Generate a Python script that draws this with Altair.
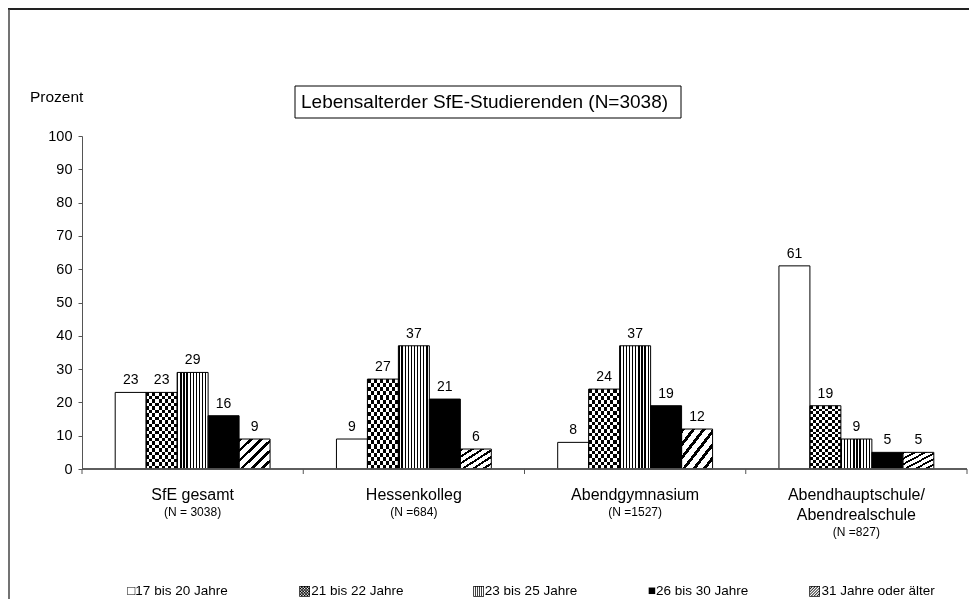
import altair as alt
import pandas as pd

# ---------------- data ----------------
groups = ["SfE gesamt", "Hessenkolleg", "Abendgymnasium", "Abendhauptschule/\nAbendrealschule"]
group_n = ["(N = 3038)", "(N =684)", "(N =1527)", "(N =827)"]
ages = ["17 bis 20 Jahre", "21 bis 22 Jahre", "23 bis 25 Jahre", "26 bis 30 Jahre", "31 Jahre oder älter"]
age_symbols = ["□", "▩", "▥", "■", "▨"]
v_17_20 = [23, 9, 8, 61]
v_21_22 = [23, 27, 24, 19]
v_23_25 = [29, 37, 37, 9]
v_26_30 = [16, 21, 19, 5]
v_31_plus = [9, 6, 12, 5]
y_ticks = [0, 10, 20, 30, 40, 50, 60, 70, 80, 90, 100]
chart_title = "Lebensalterder SfE-Studierenden (N=3038)"
y_title = "Prozent"

series = [v_17_20, v_21_22, v_23_25, v_26_30, v_31_plus]
rows = []
for age, vals in zip(ages, series):
    for g, v in zip(groups, vals):
        rows.append({"group": g, "age": age, "value": v})
df = pd.DataFrame(rows)

gdf = pd.DataFrame({"group": groups, "n": group_n})
ldf = pd.DataFrame({"age": ages, "sym": age_symbols})

# ---------------- layout / style ----------------
W, H = 885, 333
FONT = "Liberation Sans"
AX = "#555555"


def stripes(n, dark, x2, y2):
    stops = []
    for i in range(n):
        a = i / n
        b = min((i + dark) / n, 1.0)
        c = min((i + 1) / n, 1.0)
        stops += [
            {"offset": a, "color": "black"},
            {"offset": b, "color": "black"},
            {"offset": b, "color": "white"},
            {"offset": c, "color": "white"},
        ]
    return {"gradient": "linear", "x1": 0, "y1": 0, "x2": x2, "y2": y2, "stops": stops}


xs = alt.Scale(domain=groups, paddingInner=0.3, paddingOuter=0.15)
X = alt.X("group:N", scale=xs, axis=None)
XO = alt.XOffset("age:N", scale=alt.Scale(domain=ages, paddingInner=0, paddingOuter=0))
Y = alt.Y(
    "value:Q",
    scale=alt.Scale(domain=[0, 100], nice=False, zero=True),
    axis=alt.Axis(values=y_ticks, title=None, grid=False, tickSize=4, tickColor=AX,
                  domainColor=AX, labelFont=FONT, labelFontSize=14.5, labelColor="black",
                  labelPadding=6),
)

bars = alt.Chart(df)

base = bars.mark_bar().encode(
    x=X, xOffset=XO, y=Y,
    color=alt.Color("age:N", scale=alt.Scale(domain=ages, range=["white", "white", "white", "black", "white"]),
                    legend=None),
)
checkA = bars.transform_filter(alt.datum.age == ages[1]).mark_bar(
    fill=stripes(5, 0.5, 1, 0)).encode(x=X, xOffset=XO, y=Y)
checkB = bars.transform_filter(alt.datum.age == ages[1]).mark_bar(
    fill=stripes(11, 0.5, 0, 1), blend="difference").encode(x=X, xOffset=XO, y=Y)
vstripe = bars.transform_filter(alt.datum.age == ages[2]).mark_bar(
    fill=stripes(10, 0.42, 1, 0)).encode(x=X, xOffset=XO, y=Y)
hatch = bars.transform_filter(alt.datum.age == ages[4]).mark_bar(
    fill=stripes(6, 0.36, 1, 1)).encode(x=X, xOffset=XO, y=Y)
outline = bars.mark_bar(fillOpacity=0, stroke="black", strokeWidth=1).encode(x=X, xOffset=XO, y=Y)

values = bars.mark_text(baseline="bottom", dy=-5, fontSize=14, font=FONT, color="black").encode(
    x=X, xOffset=XO, y=Y, text=alt.Text("value:Q", format="d"))

# x axis line and group-boundary ticks
xaxis_line = alt.Chart(gdf).mark_rule(color=AX, strokeWidth=1).encode(
    x=alt.value(0), x2=alt.value(W), y=alt.value(H))
Xb = alt.X("group:N", scale=alt.Scale(domain=groups, paddingInner=0, paddingOuter=0),
           bandPosition=0, axis=None)
Xe = alt.X("group:N", scale=alt.Scale(domain=groups, paddingInner=0, paddingOuter=0),
           bandPosition=1, axis=None)
ticks = alt.Chart(gdf).mark_rule(color=AX).encode(x=Xb, y=alt.value(H), y2=alt.value(H + 5))
tick_end = alt.Chart(gdf).transform_filter(alt.datum.group == groups[-1]).mark_rule(color=AX).encode(
    x=Xe, y=alt.value(H), y2=alt.value(H + 5))

group_labels = alt.Chart(gdf).mark_text(
    baseline="top", align="center", lineBreak="\n", lineHeight=19.5, fontSize=16, font=FONT, color="black"
).encode(x=X, y=alt.value(H + 18), text="group:N")
n_labels_1 = alt.Chart(gdf).transform_filter("indexof(datum.group, '\\n') < 0").mark_text(
    baseline="top", align="center", fontSize=12, font=FONT, color="black"
).encode(x=X, y=alt.value(H + 37.5), text="n:N")
n_labels_2 = alt.Chart(gdf).transform_filter("indexof(datum.group, '\\n') >= 0").mark_text(
    baseline="top", align="center", fontSize=12, font=FONT, color="black", dy=20
).encode(x=X, y=alt.value(H + 37.5), text="n:N")

legend = alt.Chart(ldf).transform_calculate(lab="datum.sym + datum.age").mark_text(
    align="center", baseline="middle", fontSize=13.5, font=FONT, color="black"
).encode(
    x=alt.X("age:N", scale=alt.Scale(type="point", domain=ages, padding=0.55), axis=None),
    y=alt.value(455), text="lab:N")

tdf = pd.DataFrame({"t": [chart_title]})
title_box = alt.Chart(tdf).mark_rect(fill="white", stroke="black", strokeWidth=1).encode(
    x=alt.value(213), x2=alt.value(599), y=alt.value(-50), y2=alt.value(-18))
title_text = alt.Chart(tdf).mark_text(align="left", baseline="middle", fontSize=19, font=FONT,
                                      color="black").encode(
    x=alt.value(219), y=alt.value(-34), text="t:N")

ydf = pd.DataFrame({"t": [y_title]})
y_label = alt.Chart(ydf).mark_text(align="left", baseline="middle", fontSize=15.5, font=FONT,
                                   color="black").encode(
    x=alt.value(-52), y=alt.value(-39), text="t:N")

frame_top = alt.Chart(ydf).mark_rule(color="#222222", strokeWidth=2).encode(
    x=alt.value(-74), x2=alt.value(W + 3), y=alt.value(-127))
frame_left = alt.Chart(ydf).mark_rule(color="#444444", strokeWidth=1.5).encode(
    x=alt.value(-73), y=alt.value(-127), y2=alt.value(H + 130))

chart = alt.layer(
    frame_top, frame_left, title_box, title_text, y_label,
    base, checkA, checkB, vstripe, hatch, outline, values,
    xaxis_line, ticks, tick_end, group_labels, n_labels_1, n_labels_2, legend,
).resolve_scale(x="independent").properties(
    width=W, height=H,
    autosize=alt.AutoSizeParams(type="none"),
    padding={"left": 74, "top": 128, "right": 2, "bottom": 130},
    background="white",
).configure_view(stroke=None)

chart.save("out.html", embed_options={"renderer": "svg", "actions": False})
